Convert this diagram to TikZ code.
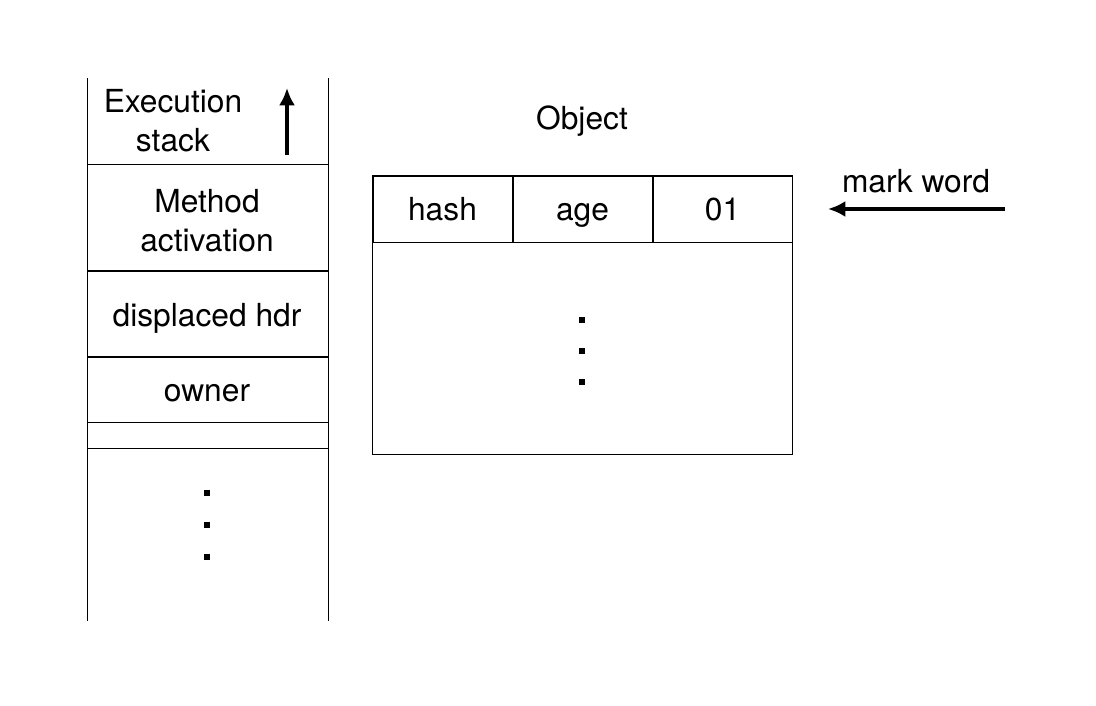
\documentclass[tikz,border=0pt]{standalone}
\usepackage{fontspec}
\setmainfont{TeX Gyre Heros}
\usetikzlibrary{positioning,arrows.meta}

\begin{document}
\begin{tikzpicture}[x=0.75pt,y=-0.75pt,font=\fontsize{23.8}{29.5}\selectfont,
    thin/.style={line width=0.75pt},
    thick/.style={line width=1.5pt},
    lbl/.style={align=center,inner sep=0pt},
    dot/.style={fill,minimum size=4.5pt,inner sep=0pt},
    cell/.style={draw,thin,minimum width=104.25pt,minimum height=48.75pt,inner sep=0pt,
      text height=17pt,text depth=0pt},
    up/.style={line width=2.4pt,-{Latex[length=13pt,width=12pt]}}]
  \useasboundingbox (0,0) rectangle (1096,706);

  % stack
  \coordinate (stl) at (87,78);
  \coordinate (str) at (328,78);
  \coordinate (sbl) at (87,621);
  \coordinate (sbr) at (328,621);
  \draw[thin] (stl) -- (sbl) (str) -- (sbr);
  \draw[thin] (87,165) -- (328,165) (87,422) -- (328,422) (87,448) -- (328,448);
  \draw[thick] (87,271) -- (328,271) (87,357) -- (328,357);

  \node[lbl] (exec) at (173,121) {Execution\\stack};
  \coordinate (ups) at (287,155);
  \coordinate (upe) at (287,88);
  \draw[up] (ups) -- (upe);
  \node[lbl] (meth) at (207,221) {Method\\activation};
  \node[lbl] (disp) at (207,318) {displaced hdr};
  \node[lbl] (owner) at (207,393) {owner};
  \foreach \y [count=\i] in {493,525,557}
    \node[dot] (sd\i) at (207,\y) {};

  % object
  \node[lbl] (objlbl) at (582,121) {Object};
  \node[draw,thin,minimum width=315pt,minimum height=208.5pt,inner sep=0pt] (obj) at (582,315) {};
  \node[cell] (hash) at (442.5,209.5) {hash};
  \node[cell,right=0pt of hash] (age) {age};
  \node[cell,right=0pt of age] (bits) {01};
  \foreach \y [count=\i] in {320,351,382}
    \node[dot] (od\i) at (582,\y) {};

  \node[lbl] (mark) at (916,181) {mark word};
  \coordinate (mks) at (1005,209);
  \coordinate (mke) at (828,209);
  \draw[up] (mks) -- (mke);
\end{tikzpicture}
\end{document}
